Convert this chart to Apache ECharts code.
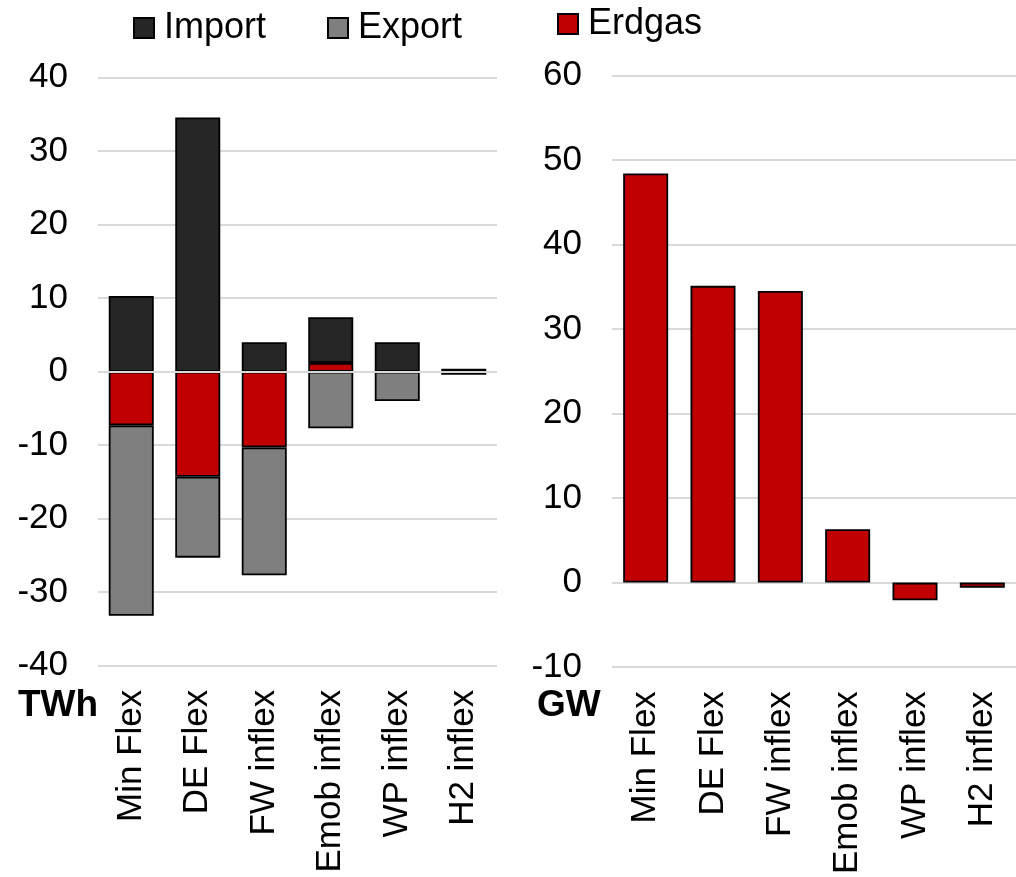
<!DOCTYPE html>
<html>
<head>
<meta charset="utf-8">
<script src="https://cdn.jsdelivr.net/npm/echarts@6/dist/echarts.min.js"></script>
<style>
  html, body { margin: 0; padding: 0; background: #fff; }
  #chart { width: 1016px; height: 877px; }
</style>
</head>
<body>
<div id="chart"></div>
<script>
// Scenario categories shared by both panels
var categories = ['Min Flex', 'DE Flex', 'FW inflex', 'Emob inflex', 'WP inflex', 'H2 inflex'];

// Left panel: energy balance in TWh
var importTWh = [10.3, 34.6, 4.0, 6.2, 4.0, 0.4];
var exportTWh = [-25.9, -11.0, -17.4, -7.7, -4.0, -0.4];
var erdgasTWh = [-7.3, -14.3, -10.3, 1.2, 0, 0];

// Right panel: natural gas capacity in GW
var erdgasGW = [48.4, 35.1, 34.5, 6.3, -2.1, -0.6];

// Axis tick settings
var twhTicks = { min: -40, max: 40, interval: 10 };
var gwTicks = { min: -10, max: 60, interval: 10 };

var FONT = 'Liberation Sans, Arial, sans-serif';
var COL_IMPORT = '#262626';
var COL_EXPORT = '#7f7f7f';
var COL_GAS = '#c00000';
var GRID_COL = '#d9d9d9';

var border = { borderColor: '#000', borderWidth: 1.8 };

function catAxis(gridIndex) {
  return {
    type: 'category',
    gridIndex: gridIndex,
    data: categories,
    axisLine: { show: false, onZero: false },
    axisTick: { show: false },
    axisLabel: {
      rotate: 90,
      margin: 24,
      fontSize: 35,
      fontFamily: FONT,
      color: '#000',
      interval: 0
    }
  };
}

function valAxis(gridIndex, t) {
  return {
    type: 'value',
    gridIndex: gridIndex,
    min: t.min,
    max: t.max,
    interval: t.interval,
    axisLine: { show: false },
    axisTick: { show: false },
    axisLabel: { fontSize: 35, fontFamily: FONT, color: '#000', margin: 30 },
    splitLine: { lineStyle: { color: GRID_COL, width: 2 } }
  };
}

function legendAt(name, left, top) {
  return {
    data: [name],
    left: left,
    top: top,
    padding: 0,
    itemWidth: 20,
    itemHeight: 20,
    icon: 'rect',
    selectedMode: false,
    textStyle: { fontSize: 36, fontFamily: FONT, color: '#000', padding: [0, 0, 0, 5] }
  };
}

var chart = echarts.init(document.getElementById('chart'), null, { renderer: 'canvas' });

chart.setOption({
  animation: false,
  backgroundColor: '#fff',
  legend: [
    legendAt('Import', 133, 10),
    legendAt('Export', 327, 10),
    legendAt('Erdgas', 557, 6)
  ],
  grid: [
    { left: 98, top: 77.7, width: 399, height: 588 },
    { left: 612, top: 75.3, width: 404, height: 593 }
  ],
  xAxis: [catAxis(0), catAxis(1)],
  yAxis: [valAxis(0, twhTicks), valAxis(1, gwTicks)],
  graphic: [
    { type: 'text', left: 18, top: 687, style: { text: 'TWh', font: 'bold 37px ' + FONT, fill: '#000' } },
    { type: 'text', left: 537, top: 687, style: { text: 'GW', font: 'bold 37px ' + FONT, fill: '#000' } }
  ],
  series: [
    {
      name: 'Erdgas',
      type: 'bar',
      stack: 'twh',
      xAxisIndex: 0,
      yAxisIndex: 0,
      barWidth: 45,
      data: erdgasTWh,
      itemStyle: Object.assign({ color: COL_GAS }, border),
      markLine: {
        silent: true,
        symbol: 'none',
        label: { show: false },
        lineStyle: { color: GRID_COL, width: 2, type: 'solid' },
        data: [{ yAxis: 0 }]
      }
    },
    {
      name: 'Import',
      type: 'bar',
      stack: 'twh',
      xAxisIndex: 0,
      yAxisIndex: 0,
      barWidth: 45,
      data: importTWh,
      itemStyle: Object.assign({ color: COL_IMPORT }, border)
    },
    {
      name: 'Export',
      type: 'bar',
      stack: 'twh',
      xAxisIndex: 0,
      yAxisIndex: 0,
      barWidth: 45,
      data: exportTWh,
      itemStyle: Object.assign({ color: COL_EXPORT }, border)
    },
    {
      name: 'Erdgas',
      type: 'bar',
      xAxisIndex: 1,
      yAxisIndex: 1,
      barWidth: 45,
      data: erdgasGW,
      itemStyle: Object.assign({ color: COL_GAS }, border)
    }
  ]
});
</script>
</body>
</html>
